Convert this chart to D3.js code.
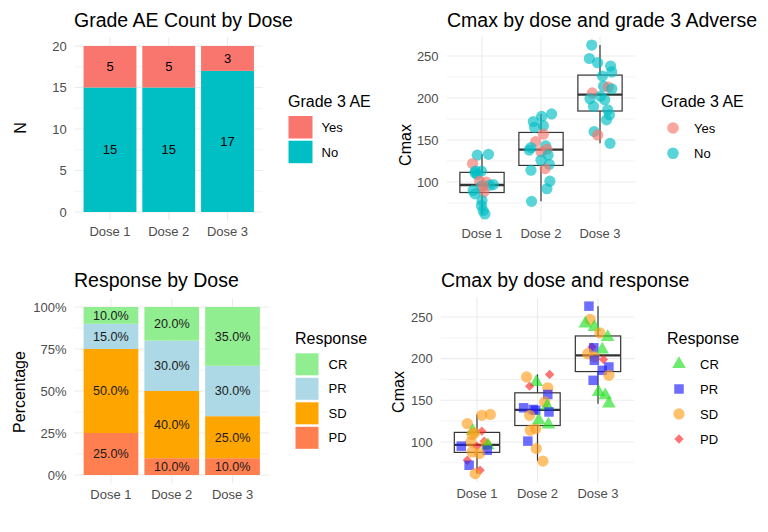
<!DOCTYPE html>
<html>
<head>
<meta charset="utf-8">
<script src="https://cdn.jsdelivr.net/npm/d3@7"></script>
<style>
  body { margin: 0; background: #fff; }
  text { font-family: "Liberation Sans", Arial, Helvetica, sans-serif; }
</style>
</head>
<body>
<svg id="chart" width="768" height="532"></svg>
<script>
// ---- data ----
const doses = ["Dose 1", "Dose 2", "Dose 3"];

const aeLevels = ["Yes", "No"];
const aeYes = [5, 5, 3];
const aeNo = [15, 15, 17];

const respLevels = ["CR", "PR", "SD", "PD"];
const pctCR = [0.10, 0.20, 0.35];
const pctPR = [0.15, 0.30, 0.30];
const pctSD = [0.50, 0.40, 0.25];
const pctPD = [0.25, 0.10, 0.10];

// per-patient Cmax, grade 3 AE (1 = Yes) and response
const cmaxDose1 = [133, 132, 122, 113, 113, 111, 109, 101, 100, 97, 96, 95, 95, 90, 88, 86, 78, 72, 66, 62];
const aeDose1   = [0, 0, 1, 0, 0, 0, 0, 1, 1, 0, 0, 0, 1, 0, 1, 0, 0, 0, 0, 0];
const respDose1 = ["SD","SD","SD","CR","PD","SD","SD","PD","SD","SD","CR","PR","PD","PR","SD","SD","PD","PR","PD","SD"];

const cmaxDose2 = [181, 178, 172, 167, 165, 157, 148, 143, 141, 139, 138, 136, 132, 121, 116, 114, 101, 92, 77, 126];
const aeDose2   = [0, 0, 0, 0, 0, 1, 1, 0, 0, 1, 0, 1, 0, 0, 1, 0, 0, 0, 0, 0];
const respDose2 = ["PD","SD","CR","PD","SD","PR","SD","CR","PR","PR","PR","PR","SD","CR","SD","SD","PR","SD","SD","CR"];

const cmaxDose3 = [263, 247, 242, 238, 231, 226, 214, 213, 211, 206, 202, 199, 198, 190, 186, 180, 174, 160, 156, 146];
const aeDose3   = [0, 0, 0, 0, 0, 0, 0, 1, 0, 1, 0, 0, 0, 0, 0, 0, 0, 0, 1, 0];
const respDose3 = ["PR","SD","CR","CR","SD","CR","PD","PR","CR","SD","SD","PD","PR","PR","PR","SD","PR","CR","CR","CR"];

// horizontal jitter, in dose steps
const jitAE1   = [.11,-.08,-.16,-.11,-.01,-.12,-.08,-.04,.07,.19,.13,-.01,.02,-.15,.03,-.12,0,-.01,.02,.05];
const jitAE2   = [.18,.01,-.13,.04,-.11,.04,-.09,.08,-.17,.10,-.20,0,.12,.14,.07,-.17,.15,.10,-.16,0];
const jitAE3   = [-.14,-.18,-.04,.18,.20,.04,.06,.14,.20,-.13,.01,-.17,.08,-.11,.13,.16,.11,-.10,-.04,.17];
const jitResp1 = [.22,.08,-.16,-.07,.08,-.04,-.08,.12,-.10,.15,.18,-.26,0,.17,-.08,.04,-.16,-.13,.05,-.03];
const jitResp2 = [.20,-.18,-.02,-.13,.17,.17,.12,.16,-.23,-.07,-.03,.19,-.13,.18,-.03,-.12,-.16,-.02,.09,.02];
const jitResp3 = [-.15,-.13,-.21,-.06,.03,.16,-.10,-.07,.07,-.17,-.06,.09,-.06,.18,.07,.18,-.08,.01,.12,.18];

const patients = [];
[
  [cmaxDose1, aeDose1, respDose1, jitAE1, jitResp1],
  [cmaxDose2, aeDose2, respDose2, jitAE2, jitResp2],
  [cmaxDose3, aeDose3, respDose3, jitAE3, jitResp3]
].forEach((cols, i) => {
  cols[0].forEach((v, j) => patients.push({
    dose: doses[i], cmax: v, ae: cols[1][j] ? "Yes" : "No",
    resp: cols[2][j], jA: cols[3][j], jR: cols[4][j]
  }));
});

// ---- styles ----
const aeColor = d3.scaleOrdinal().domain(aeLevels).range(["#F8766D", "#00BFC4"]);
const respFill = d3.scaleOrdinal().domain(respLevels).range(["#90EE90", "#ADD8E6", "#FFA500", "#FF7F50"]);
const respPoint = d3.scaleOrdinal().domain(respLevels).range(["#22E022", "#1E1EFF", "#FFA020", "#FF2A2A"]);
const gridCol = "#EBEBEB";
const tickCol = "#4D4D4D";

const svg = d3.select("#chart");
svg.append("rect").attr("width", 768).attr("height", 532).attr("fill", "#fff");

function panel(o) {
  const g = svg.append("g");
  const x = d3.scaleBand().domain(doses).range([o.x0, o.x1]).paddingInner(0).paddingOuter(0.1);
  const y = d3.scaleLinear().domain(o.yDomain).range(o.yRange);
  const cx = d => x(d) + x.step() / 2;

  g.selectAll("line.minor").data(o.minor).join("line")
    .attr("x1", o.x0).attr("x2", o.x1).attr("y1", d => y(d)).attr("y2", d => y(d))
    .attr("stroke", gridCol).attr("stroke-width", 0.6);
  g.selectAll("line.major").data(o.major).join("line")
    .attr("x1", o.x0).attr("x2", o.x1).attr("y1", d => y(d)).attr("y2", d => y(d))
    .attr("stroke", gridCol).attr("stroke-width", 1.1);
  g.selectAll("line.vert").data(doses).join("line")
    .attr("x1", cx).attr("x2", cx).attr("y1", o.yRange[0]).attr("y2", o.yRange[1])
    .attr("stroke", gridCol).attr("stroke-width", 1.1);

  g.selectAll("text.ytick").data(o.major).join("text")
    .attr("x", o.x0 - 8).attr("y", d => y(d)).attr("dy", "0.35em")
    .attr("text-anchor", "end").attr("font-size", 13).attr("fill", tickCol)
    .text(o.fmt || (d => d));
  g.selectAll("text.xtick").data(doses).join("text")
    .attr("x", cx).attr("y", o.yRange[0] + 16)
    .attr("text-anchor", "middle").attr("font-size", 13).attr("fill", tickCol)
    .text(d => d);

  g.append("text").attr("x", o.titleX).attr("y", o.titleY)
    .attr("font-size", 19.5).attr("fill", "#000").text(o.title);
  g.append("text").attr("transform", `translate(${o.ylabX},${o.ylabY}) rotate(-90)`)
    .attr("text-anchor", "middle").attr("font-size", 16).attr("fill", "#000").text(o.ylab);

  return { g, x, y, cx };
}

function legendTitle(x, y, t) {
  svg.append("text").attr("x", x).attr("y", y).attr("font-size", 16).attr("fill", "#000").text(t);
}

// ---- panel 1: Grade AE count stacked bars ----
{
  const p = panel({
    x0: 74.75, x1: 262.75, yDomain: [-1, 21], yRange: [220.3, 37.7],
    major: [0, 5, 10, 15, 20], minor: [2.5, 7.5, 12.5, 17.5],
    title: "Grade AE Count by Dose", titleX: 74, titleY: 27,
    ylab: "N", ylabX: 26, ylabY: 128
  });
  const rows = doses.map((d, i) => ({ dose: d, Yes: aeYes[i], No: aeNo[i] }));
  const series = d3.stack().keys(["No", "Yes"])(rows);
  const bw = p.x.step() * 0.9;
  series.forEach(s => {
    p.g.selectAll(null).data(s).join("rect")
      .attr("x", d => p.cx(d.data.dose) - bw / 2).attr("width", bw)
      .attr("y", d => p.y(d[1])).attr("height", d => p.y(d[0]) - p.y(d[1]))
      .attr("fill", aeColor(s.key));
    p.g.selectAll(null).data(s).join("text")
      .attr("x", d => p.cx(d.data.dose)).attr("y", d => p.y((d[0] + d[1]) / 2))
      .attr("dy", "0.35em").attr("text-anchor", "middle").attr("font-size", 13).attr("fill", "#000")
      .text(d => d[1] - d[0]);
  });
  legendTitle(288, 107, "Grade 3 AE");
  aeLevels.forEach((k, i) => {
    const ky = 116 + i * 24.7;
    svg.append("rect").attr("x", 288.5).attr("y", ky).attr("width", 24).attr("height", 22.5).attr("fill", aeColor(k));
    svg.append("text").attr("x", 321.5).attr("y", ky + 11.25).attr("dy", "0.35em")
      .attr("font-size", 13).attr("fill", "#000").text(k);
  });
}

// ---- boxplot + jitter helper ----
function boxes(p, stepFrac) {
  const w = p.x.step() * stepFrac;
  doses.forEach(d => {
    const v = patients.filter(q => q.dose === d).map(q => q.cmax).sort(d3.ascending);
    const q1 = d3.quantile(v, 0.25), med = d3.quantile(v, 0.5), q3 = d3.quantile(v, 0.75);
    const iqr = q3 - q1;
    const lo = d3.min(v.filter(a => a >= q1 - 1.5 * iqr));
    const hi = d3.max(v.filter(a => a <= q3 + 1.5 * iqr));
    const c = p.cx(d);
    const s = "#333333";
    p.g.append("line").attr("x1", c).attr("x2", c).attr("y1", p.y(hi)).attr("y2", p.y(q3)).attr("stroke", s).attr("stroke-width", 1.2);
    p.g.append("line").attr("x1", c).attr("x2", c).attr("y1", p.y(q1)).attr("y2", p.y(lo)).attr("stroke", s).attr("stroke-width", 1.2);
    p.g.append("rect").attr("x", c - w / 2).attr("width", w).attr("y", p.y(q3)).attr("height", p.y(q1) - p.y(q3))
      .attr("fill", "none").attr("stroke", s).attr("stroke-width", 1.2);
    p.g.append("line").attr("x1", c - w / 2).attr("x2", c + w / 2).attr("y1", p.y(med)).attr("y2", p.y(med))
      .attr("stroke", s).attr("stroke-width", 2.4);
  });
}

const cExt = d3.extent(patients, d => d.cmax);
const cPad = (cExt[1] - cExt[0]) * 0.05;
const cDomain = [cExt[0] - cPad, cExt[1] + cPad];

// ---- panel 2: Cmax by dose and AE ----
{
  const p = panel({
    x0: 446.6, x1: 635.4, yDomain: cDomain, yRange: [222.4, 36.6],
    major: [100, 150, 200, 250], minor: [75, 125, 175, 225],
    title: "Cmax by dose and grade 3 Adverse", titleX: 447, titleY: 27,
    ylab: "Cmax", ylabX: 411, ylabY: 145
  });
  boxes(p, 0.75);
  p.g.selectAll("circle.pt").data(patients).join("circle")
    .attr("cx", d => p.cx(d.dose) + d.jA * p.x.step())
    .attr("cy", d => p.y(d.cmax)).attr("r", 5.6)
    .attr("fill", d => aeColor(d.ae)).attr("fill-opacity", 0.65);
  legendTitle(661, 107, "Grade 3 AE");
  aeLevels.forEach((k, i) => {
    const ky = 128 + i * 25.3;
    svg.append("circle").attr("cx", 673).attr("cy", ky).attr("r", 5.8).attr("fill", aeColor(k)).attr("fill-opacity", 0.65);
    svg.append("text").attr("x", 694).attr("y", ky).attr("dy", "0.35em")
      .attr("font-size", 13).attr("fill", "#000").text(k);
  });
}

// ---- panel 3: Response percentage stacked bars ----
{
  const p = panel({
    x0: 74.5, x1: 269, yDomain: [-0.05, 1.05], yRange: [483.4, 298.6],
    major: [0, 0.25, 0.5, 0.75, 1], minor: [0.125, 0.375, 0.625, 0.875],
    fmt: d3.format(".0%"),
    title: "Response by Dose", titleX: 74, titleY: 287,
    ylab: "Percentage", ylabX: 25, ylabY: 392
  });
  const rows = doses.map((d, i) => ({ dose: d, CR: pctCR[i], PR: pctPR[i], SD: pctSD[i], PD: pctPD[i] }));
  const series = d3.stack().keys(["PD", "SD", "PR", "CR"])(rows);
  const bw = p.x.step() * 0.9;
  const f = d3.format(".1%");
  series.forEach(s => {
    p.g.selectAll(null).data(s).join("rect")
      .attr("x", d => p.cx(d.data.dose) - bw / 2).attr("width", bw)
      .attr("y", d => p.y(d[1])).attr("height", d => p.y(d[0]) - p.y(d[1]))
      .attr("fill", respFill(s.key));
    p.g.selectAll(null).data(s).join("text")
      .attr("x", d => p.cx(d.data.dose)).attr("y", d => p.y((d[0] + d[1]) / 2))
      .attr("dy", "0.35em").attr("text-anchor", "middle").attr("font-size", 12.6).attr("fill", "#1a1a1a")
      .text(d => f(d[1] - d[0]));
  });
  legendTitle(295, 344, "Response");
  respLevels.forEach((k, i) => {
    const ky = 353.3 + i * 24.5;
    svg.append("rect").attr("x", 295.5).attr("y", ky).attr("width", 23).attr("height", 22)
      .attr("fill", respFill(k));
    svg.append("text").attr("x", 328.5).attr("y", ky + 11).attr("dy", "0.35em")
      .attr("font-size", 13).attr("fill", "#000").text(k);
  });
}

// ---- panel 4: Cmax by dose and response ----
const shapeOf = {
  CR: d3.symbol().type(d3.symbolTriangle).size(80),
  PR: d3.symbol().type(d3.symbolSquare).size(90),
  SD: d3.symbol().type(d3.symbolCircle).size(100),
  PD: d3.symbol().type(d3.symbolSquare).size(44)
};
{
  const p = panel({
    x0: 440.7, x1: 634.3, yDomain: cDomain, yRange: [482.0, 297.8],
    major: [100, 150, 200, 250], minor: [75, 125, 175, 225],
    title: "Cmax by dose and response", titleX: 441, titleY: 287,
    ylab: "Cmax", ylabX: 404, ylabY: 392
  });
  boxes(p, 0.75);
  p.g.selectAll("path.pt").data(patients).join("path")
    .attr("d", d => shapeOf[d.resp]())
    .attr("transform", d => `translate(${p.cx(d.dose) + d.jR * p.x.step()},${p.y(d.cmax)})` + (d.resp === "PD" ? " rotate(45)" : ""))
    .attr("fill", d => respPoint(d.resp)).attr("fill-opacity", 0.65);
  legendTitle(667, 344, "Response");
  respLevels.forEach((k, i) => {
    const ky = 364 + i * 25;
    svg.append("path").attr("d", shapeOf[k]())
      .attr("transform", `translate(679,${ky})` + (k === "PD" ? " rotate(45)" : ""))
      .attr("fill", respPoint(k)).attr("fill-opacity", 0.65);
    svg.append("text").attr("x", 700).attr("y", ky).attr("dy", "0.35em")
      .attr("font-size", 13).attr("fill", "#000").text(k);
  });
}
</script>
</body>
</html>
